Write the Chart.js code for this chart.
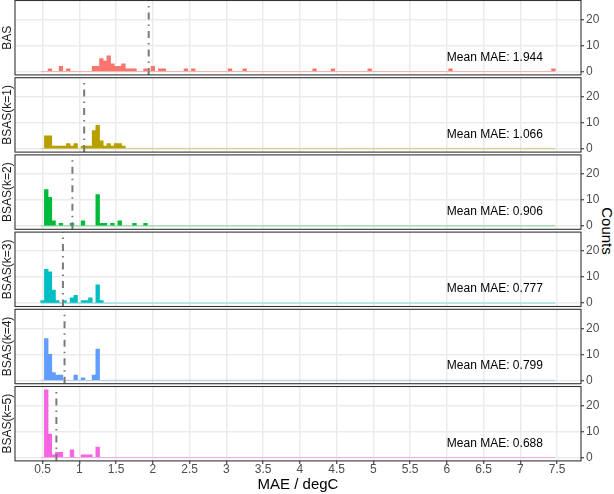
<!DOCTYPE html>
<html><head><meta charset="utf-8">
<script src="https://cdn.jsdelivr.net/npm/chart.js@4.4.1/dist/chart.umd.min.js"></script>
<style>
html,body{margin:0;padding:0;background:#fff;}
#wrap{position:relative;width:614px;height:494px;overflow:hidden;background:#fff;}
canvas{position:absolute;left:0;}
#ytitle{position:absolute;font:15px "Liberation Sans",Arial,sans-serif;color:#000;transform:translate(-50%,-50%) rotate(90deg);left:607px;top:231px;white-space:nowrap;}
</style></head><body>
<div id="wrap"><div id="ytitle">Counts</div></div>
<script>
// ---------------- data ----------------
const panelNames  = ['BAS','BSAS(k=1)','BSAS(k=2)','BSAS(k=3)','BSAS(k=4)','BSAS(k=5)'];
const panelColors = ['#F8766D','#B79F00','#00BA38','#00BFC4','#619CFF','#F564E3'];
const meanMAE     = [1.944, 1.066, 0.906, 0.777, 0.799, 0.688];
const meanLabels  = ['Mean MAE: 1.944','Mean MAE: 1.066','Mean MAE: 0.906','Mean MAE: 0.777','Mean MAE: 0.799','Mean MAE: 0.688'];

// histogram bin centres (degC, bin width 0.05) and counts
const basBins   = [0.6,0.75,0.85,1.2,1.25,1.3,1.35,1.4,1.45,1.5,1.55,1.6,1.65,1.7,1.75,1.9,2.0,2.1,2.15,2.45,2.55,3.05,3.25,4.2,4.45,4.95,6.05,7.45];
const basCounts = [1,2,1,2,2,5,4,6,3,2,2,3,1,1,1,1,2,1,1,1,1,1,1,1,1,1,1,1];
const k1Bins    = [0.55,0.6,0.65,0.7,0.75,0.8,0.85,0.9,0.95,1.05,1.1,1.15,1.2,1.25,1.3,1.35,1.4,1.45,1.5,1.55,1.6];
const k1Counts  = [5,5,1,1,1,1,2,1,2,1,1,1,7,9,3,1,2,1,2,2,1];
const k2Bins    = [0.55,0.6,0.65,0.75,0.9,1.05,1.25,1.3,1.35,1.45,1.55,1.75,1.9];
const k2Counts  = [14,11,2,1,1,2,12,1,1,1,2,1,1];
const k3Bins    = [0.5,0.55,0.6,0.65,0.7,0.8,0.9,0.95,1.05,1.1,1.15,1.25,1.3];
const k3Counts  = [1,13,12,5,1,1,2,3,1,1,2,7,1];
const k4Bins    = [0.55,0.6,0.65,0.7,0.75,0.95,1.05,1.2,1.25];
const k4Counts  = [16,10,3,2,2,2,1,2,12];
const k5Bins    = [0.55,0.6,0.65,0.7,0.75,0.9,1.05,1.1,1.15,1.25];
const k5Counts  = [26,9,1,2,2,3,1,1,1,4];

const allBins   = [basBins,k1Bins,k2Bins,k3Bins,k4Bins,k5Bins];
const allCounts = [basCounts,k1Counts,k2Counts,k3Counts,k4Counts,k5Counts];
const histRange = [0.475, 7.475];   // full extent of histogram bins

const xTickValues = [0.5,1,1.5,2,2.5,3,3.5,4,4.5,5,5.5,6,6.5,7,7.5];
const xTickLabels = ['0.5','1','1.5','2','2.5','3','3.5','4','4.5','5','5.5','6','6.5','7','7.5'];
const yTickValues = [0,10,20];
const yTickLabels = ['0','10','20'];
const xLimits = [0.125, 7.825];
const yLimits = [-1.3, 27.3];

// ---------------- layout ----------------
const W = 614, H = 494;
const PANEL_L = 15, PANEL_R = 581;
const PANEL_TOP0 = 0.5, PITCH = 77.2, PANEL_H = 74.4;
const MARGIN = 8;
const TEXT_AT = {x: 6.0, y: 5.5};
const FONT = '"Liberation Sans", Arial, Helvetica, sans-serif';

function alpha(hex, a){
  const r=parseInt(hex.slice(1,3),16),g=parseInt(hex.slice(3,5),16),b=parseInt(hex.slice(5,7),16);
  return `rgba(${r},${g},${b},${a})`;
}

const wrap = document.getElementById('wrap');

for (let i = 0; i < 6; i++) {
  const last = (i === 5);
  const pTop = PANEL_TOP0 + i * PITCH;
  const pBot = pTop + PANEL_H;
  const cTop = Math.floor(pTop) - MARGIN;
  const cBot = last ? H : Math.ceil(pBot) + MARGIN;
  const cv = document.createElement('canvas');
  cv.width = W; cv.height = cBot - cTop;
  cv.style.top = cTop + 'px';
  cv.style.width = W + 'px'; cv.style.height = (cBot - cTop) + 'px';
  wrap.appendChild(cv);

  const bars = allBins[i].map((b, j) => ({x: b, y: allCounts[i][j]}));

  const panelPlugin = {
    id: 'panel' + i,
    afterDatasetsDraw(chart) {
      const {ctx, scales} = chart;
      ctx.save();
      ctx.font = '12px ' + FONT;
      ctx.fillStyle = '#000000';
      ctx.textAlign = 'left';
      ctx.textBaseline = 'middle';
      ctx.fillText(meanLabels[i], scales.x.getPixelForValue(TEXT_AT.x), scales.y.getPixelForValue(TEXT_AT.y));
      ctx.restore();
    },
    afterDraw(chart) {
      const {ctx, chartArea: ca} = chart;
      ctx.save();
      ctx.strokeStyle = '#333333';
      ctx.lineWidth = 1.1;
      ctx.strokeRect(ca.left, ca.top, ca.right - ca.left, ca.bottom - ca.top);
      ctx.translate(7.5, (ca.top + ca.bottom) / 2);
      ctx.rotate(-Math.PI / 2);
      ctx.font = '12px ' + FONT;
      ctx.fillStyle = '#1A1A1A';
      ctx.textAlign = 'center';
      ctx.textBaseline = 'middle';
      ctx.fillText(panelNames[i], 0, 0);
      ctx.restore();
    }
  };

  new Chart(cv, {
    type: 'bar',
    data: {
      datasets: [
        {
          type: 'line', order: 0,
          data: [{x: meanMAE[i], y: yLimits[0]}, {x: meanMAE[i], y: yLimits[1]}],
          borderColor: '#7A7A7A', borderWidth: 2, borderDash: [7, 5, 1.5, 5],
          pointRadius: 0, fill: false
        },
        {
          type: 'bar', order: 1,
          data: bars,
          backgroundColor: panelColors[i], borderWidth: 0,
          barPercentage: 1.0, categoryPercentage: 1.0
        },
        {
          type: 'line', order: 2,
          data: [{x: histRange[0], y: 0}, {x: histRange[1], y: 0}],
          borderColor: alpha(panelColors[i], 0.45), borderWidth: 1,
          pointRadius: 0, fill: false
        }
      ]
    },
    options: {
      responsive: false,
      animation: false,
      devicePixelRatio: 1,
      events: [],
      layout: {padding: {left: PANEL_L, right: 0, top: pTop - cTop, bottom: last ? 0 : cBot - pBot}},
      plugins: {legend: {display: false}, tooltip: {enabled: false}},
      scales: {
        x: {
          type: 'linear', position: 'bottom', offset: false,
          min: xLimits[0], max: xLimits[1],
          afterBuildTicks(s) { s.ticks = xTickValues.map(v => ({value: v})); },
          afterFit(s) { s.height = last ? (H - pBot) : 0; s.paddingLeft = 0; s.paddingRight = 0; },
          grid: {offset: false, color: '#EBEBEB', lineWidth: 1.5, drawTicks: last, tickLength: 3, tickColor: '#333333', tickWidth: 1.1},
          border: {display: false},
          ticks: {
            display: last, padding: 0, autoSkip: false, maxRotation: 0,
            color: '#4D4D4D', font: {family: FONT, size: 12, lineHeight: 1},
            callback: (v, idx) => xTickLabels[idx]
          },
          title: {display: last, text: 'MAE / degC', color: '#000000', font: {family: FONT, size: 15}, padding: {top: 0, bottom: 0}}
        },
        y: {
          type: 'linear', position: 'right',
          min: yLimits[0], max: yLimits[1],
          afterBuildTicks(s) { s.ticks = yTickValues.map(v => ({value: v})); },
          afterFit(s) { s.width = W - PANEL_R; s.paddingTop = 0; s.paddingBottom = 0; },
          grid: {color: '#EBEBEB', lineWidth: 1.5, drawTicks: true, tickLength: 3, tickColor: '#333333', tickWidth: 1.1},
          border: {display: false},
          ticks: {
            padding: 2, color: '#4D4D4D', font: {family: FONT, size: 12, lineHeight: 1},
            callback: (v, idx) => yTickLabels[idx]
          }
        }
      }
    },
    plugins: [panelPlugin]
  });
}
</script>
</body></html>
